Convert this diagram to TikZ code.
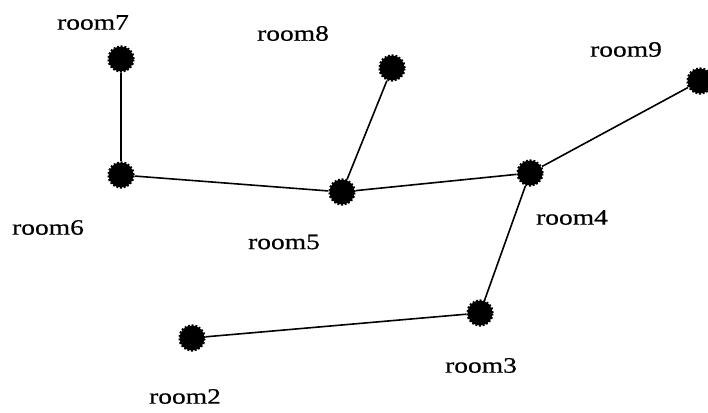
\documentclass[tikz,border=0pt]{standalone}
\usepackage{fontspec}
\setmainfont[FakeStretch=1.25,FakeBold=0.6]{Liberation Serif}
\begin{document}
\begin{tikzpicture}[x=1pt,y=-1pt,
  room/.style={circle,fill=black,draw=black,line width=2.4pt,dash pattern=on 1.8pt off 1.8pt,minimum size=25pt,inner sep=0pt},
  lbl/.style={inner sep=0pt,font=\fontsize{22}{22}\selectfont},
  edge/.style={line width=1.6pt}]
\useasboundingbox (0,0) rectangle (708,412);
\fill[white] (0,0) rectangle (708,412);
\node[room] (r7) at (121,59) {};
\node[room] (r8) at (392,68) {};
\node[room] (r9) at (700,81) {};
\node[room] (r6) at (121,175) {};
\node[room] (r5) at (342,192) {};
\node[room] (r4) at (530,173) {};
\node[room] (r3) at (480,313) {};
\node[room] (r2) at (192,338) {};
\node[lbl] (l7) at (93,22.5) {room7};
\node[lbl] (l8) at (293,33.5) {room8};
\node[lbl] (l9) at (626,49.5) {room9};
\node[lbl] (l6) at (48,227.5) {room6};
\node[lbl] (l5) at (284,242) {room5};
\node[lbl] (l4) at (572,217.5) {room4};
\node[lbl] (l3) at (481,365.5) {room3};
\node[lbl] (l2) at (185,396.5) {room2};
\draw[edge] (r7) -- (r6);
\draw[edge] (r6) -- (r5);
\draw[edge] (r8) -- (r5);
\draw[edge] (r5) -- (r4);
\draw[edge] (r4) -- (r9);
\draw[edge] (r4) -- (r3);
\draw[edge] (r3) -- (r2);
\end{tikzpicture}
\end{document}
